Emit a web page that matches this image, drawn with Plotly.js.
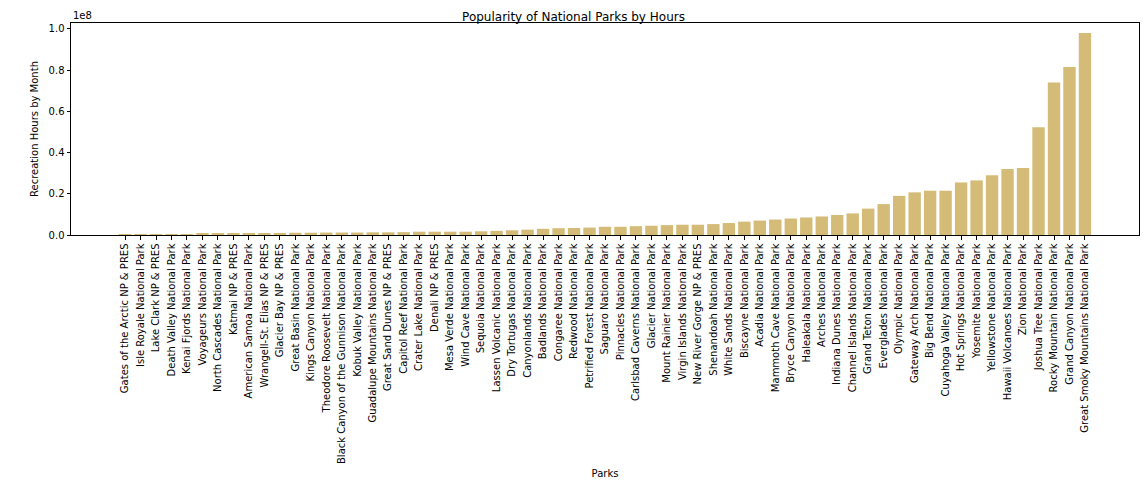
<!DOCTYPE html>
<html>
<head>
<meta charset="utf-8">
<script src="https://cdn.plot.ly/plotly-3.0.1.min.js"></script>
<style>body{margin:0;background:#fff}#plot{width:1147px;height:487px}</style>
</head>
<body>
<div id="plot"></div>
<script>
// Parks sorted by recreation hours
const parks = ['Gates of the Arctic NP & PRES','Isle Royale National Park','Lake Clark NP & PRES','Death Valley National Park',
'Kenai Fjords National Park','Voyageurs National Park','North Cascades National Park','Katmai NP & PRES',
'American Samoa National Park','Wrangell-St. Elias NP & PRES','Glacier Bay NP & PRES','Great Basin National Park',
'Kings Canyon National Park','Theodore Roosevelt National Park','Black Canyon of the Gunnison National Park',
'Kobuk Valley National Park','Guadalupe Mountains National Park','Great Sand Dunes NP & PRES','Capitol Reef National Park',
'Crater Lake National Park','Denali NP & PRES','Mesa Verde National Park','Wind Cave National Park','Sequoia National Park',
'Lassen Volcanic National Park','Dry Tortugas National Park','Canyonlands National Park','Badlands National Park',
'Congaree National Park','Redwood National Park','Petrified Forest National Park','Saguaro National Park',
'Pinnacles National Park','Carlsbad Caverns National Park','Glacier National Park','Mount Rainier National Park',
'Virgin Islands National Park','New River Gorge NP & PRES','Shenandoah National Park','White Sands National Park',
'Biscayne National Park','Acadia National Park','Mammoth Cave National Park','Bryce Canyon National Park',
'Haleakala National Park','Arches National Park','Indiana Dunes National Park','Channel Islands National Park',
'Grand Teton National Park','Everglades National Park','Olympic National Park','Gateway Arch National Park',
'Big Bend National Park','Cuyahoga Valley National Park','Hot Springs National Park','Yosemite National Park',
'Yellowstone National Park','Hawaii Volcanoes National Park','Zion National Park','Joshua Tree National Park',
'Rocky Mountain National Park','Grand Canyon National Park','Great Smoky Mountains National Park'];

// millions of hours
const hoursM = [0.05,0.1,0.15,0.3,0.4,0.5,0.5,0.6,0.8,0.9,1.0,1.1,1.1,1.2,1.2,1.2,1.3,1.3,1.4,1.6,1.6,1.6,1.6,1.8,
2.0,2.3,2.6,3.0,3.3,3.4,3.6,4.0,4.0,4.3,4.5,4.8,5.0,5.0,5.3,5.8,6.5,7.0,7.5,8.0,8.5,9.0,9.7,10.5,12.8,15.0,
19.0,20.7,21.5,21.5,25.5,26.5,29.0,32.0,32.5,52.3,74.0,81.5,98.0];

const yTicks = [0,0.2,0.4,0.6,0.8,1.0];

const plot = document.getElementById('plot');
const font = {family:'DejaVu Sans', size:10, color:'#000'};

Plotly.newPlot(plot, [{
	type:'bar',
	x: parks.map((p,i)=>i),
	y: hoursM.map(v=>v*1e6),
	width: 0.8,
	marker:{color:'#d4bc78'},
	hoverinfo:'skip'
}], {
	width:1147, height:487,
	margin:{l:71, r:8, t:23, b:252},
	paper_bgcolor:'#fff', plot_bgcolor:'#fff',
	font: font,
	showlegend:false,
	title:{text:'Popularity of National Parks by Hours', font:{family:'DejaVu Sans', size:12}, x:0.5, xanchor:'center', y:0.975},
	xaxis:{
		range:[-3.49, parks.length+2.49],
		tickvals: parks.map((p,i)=>i), ticktext: parks, tickangle:-90,
		ticks:'outside', ticklen:3.5, tickcolor:'#000', tickfont:font,
		showline:true, mirror:true, linecolor:'#000', linewidth:1,
		showgrid:false, zeroline:false,
		title:{text:'Parks', font:font, standoff:6}
	},
	yaxis:{
		range:[0, 1.029e8],
		tickvals: yTicks.map(v=>v*1e8), ticktext: yTicks.map(v=>v.toFixed(1)),
		ticks:'outside', ticklen:3.5, tickcolor:'#000', tickfont:font,
		showline:true, mirror:true, linecolor:'#000', linewidth:1,
		showgrid:false, zeroline:false,
		title:{text:'Recreation Hours by Month', font:font, standoff:8}
	},
	annotations:[{text:'1e8', xref:'paper', yref:'paper', x:0, y:1, xanchor:'left', yanchor:'bottom', showarrow:false, font:font}]
}, {displayModeBar:false});
</script>
</body>
</html>
